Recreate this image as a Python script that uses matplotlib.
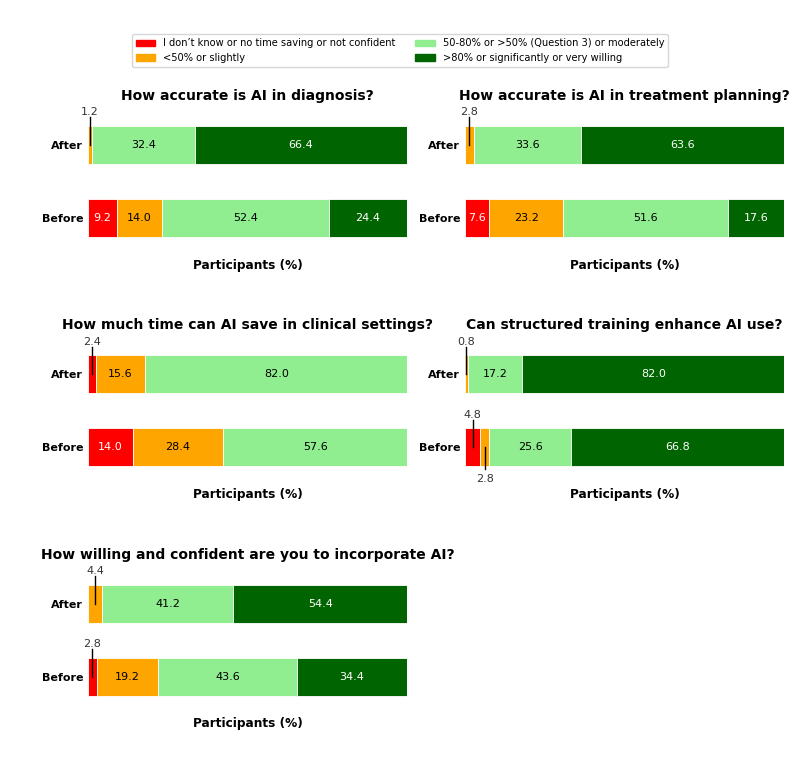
import numpy as np
import matplotlib.pyplot as plt
from matplotlib.patches import Patch

titles = ['How accurate is AI in diagnosis?',
          'How accurate is AI in treatment planning?',
          'How much time can AI save in clinical settings?',
          'Can structured training enhance AI use?',
          'How willing and confident are you to incorporate AI?']
groups = ['Before', 'After']
categories = ['I don\u2019t know or no time saving or not confident',
              '<50% or slightly',
              '50-80% or >50% (Question 3) or moderately',
              '>80% or significantly or very willing']
colors = ['#ff0000', '#ffa500', '#90ee90', '#006400']
text_colors = ['white', 'black', 'black', 'white']

# values per question: rows = [Before, After], cols = categories
before = [[9.2, 14.0, 52.4, 24.4],
          [7.6, 23.2, 51.6, 17.6],
          [14.0, 28.4, 57.6, 0.0],
          [4.8, 2.8, 25.6, 66.8],
          [2.8, 19.2, 43.6, 34.4]]
after = [[0.0, 1.2, 32.4, 66.4],
         [0.0, 2.8, 33.6, 63.6],
         [2.4, 15.6, 82.0, 0.0],
         [0.0, 0.8, 17.2, 82.0],
         [0.0, 4.4, 41.2, 54.4]]

fig, axes = plt.subplots(3, 2, figsize=(8, 7.78), dpi=100)
plt.subplots_adjust(left=0.11, right=0.98, top=0.8605, bottom=0.0835,
                    wspace=0.182, hspace=0.57)
axes = axes.flatten()

for i, ax in enumerate(axes[:5]):
    data = [before[i], after[i]]
    for row, vals in enumerate(data):
        left = 0.0
        prev_small = False
        for c, v in enumerate(vals):
            if v > 0:
                ax.barh(row, v, left=left, height=0.52, color=colors[c],
                        edgecolor='white', linewidth=0.6)
                xc = left + v / 2
                if v >= 5:
                    ax.text(xc, row, f'{v:.1f}', ha='center', va='center',
                            fontsize=8, color=text_colors[c])
                    prev_small = False
                else:
                    if prev_small:
                        ax.plot([xc, xc], [row, row - 0.3], color='black', lw=1)
                        ax.text(xc, row - 0.36, f'{v:.1f}', ha='center', va='top',
                                fontsize=8, color='#333333')
                    else:
                        ax.plot([xc, xc], [row, row + 0.38], color='black', lw=1)
                        ax.text(xc, row + 0.38, f'{v:.1f}', ha='center', va='bottom',
                                fontsize=8, color='#333333')
                    prev_small = True
            left += v
    ax.set_xlim(0, 100)
    ax.set_ylim(-0.5, 1.5)
    ax.set_yticks([0, 1])
    ax.set_yticklabels(groups, fontweight='bold', fontsize=8)
    ax.set_xticks([])
    ax.tick_params(axis='y', length=0)
    for s in ax.spines.values():
        s.set_visible(False)
    ax.set_title(titles[i], fontweight='bold', fontsize=10, pad=6)
    ax.set_xlabel('Participants (%)', fontweight='bold', fontsize=8.7, labelpad=3)

axes[5].axis('off')

handles = [Patch(color=colors[k], label=categories[k]) for k in range(4)]
fig.legend(handles=handles, loc='upper center', bbox_to_anchor=(0.5, 0.962),
           ncol=2, fontsize=7.1, frameon=True, columnspacing=2.0)

plt.savefig('out.png')
